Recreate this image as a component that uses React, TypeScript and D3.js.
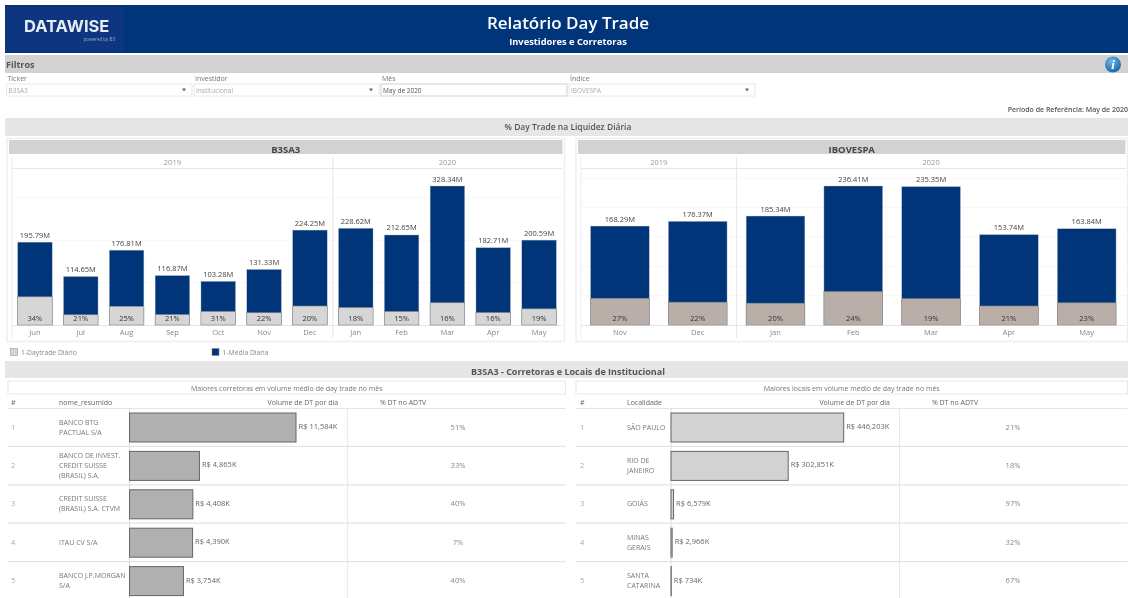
import * as d3 from "d3";

const FONT = "'Open Sans', sans-serif";
const NAVY = "#00347a";

// B3SA3 panel
const b3Months = ["Jun", "Jul", "Aug", "Sep", "Oct", "Nov", "Dec", "Jan", "Feb", "Mar", "Apr", "May"];
const b3Totals = [195.79, 114.65, 176.81, 116.87, 103.28, 131.33, 224.25, 228.62, 212.65, 328.34, 182.71, 200.59];
const b3Shares = [34, 21, 25, 21, 31, 22, 20, 18, 15, 16, 16, 19];
const b3Ticks = [100, 200, 300];

// IBOVESPA panel
const ibovMonths = ["Nov", "Dec", "Jan", "Feb", "Mar", "Apr", "May"];
const ibovTotals = [168.29, 176.37, 185.34, 236.41, 235.35, 153.74, 163.84];
const ibovShares = [27, 22, 20, 24, 19, 21, 23];
const ibovTicks = [50, 100, 150, 200, 250];

// tables
const brokerNames = [
  ["BANCO BTG", "PACTUAL S/A"],
  ["BANCO DE INVEST.", "CREDIT SUISSE", "(BRASIL) S.A."],
  ["CREDIT SUISSE", "(BRASIL) S.A. CTVM"],
  ["ITAU CV S/A"],
  ["BANCO J.P.MORGAN", "S/A"],
];
const brokerVolumes = [11584, 4865, 4408, 4390, 3754];
const brokerShares = [51, 33, 40, 7, 40];

const placeNames = [
  ["SÃO PAULO"],
  ["RIO DE", "JANEIRO"],
  ["GOIÁS"],
  ["MINAS", "GERAIS"],
  ["SANTA", "CATARINA"],
];
const placeVolumes = [446203, 302851, 6579, 2966, 734];
const placeShares = [21, 18, 97, 32, 67];

const filterLabels = ["Ticker", "Investidor", "Mês", "Índice"];
const filterValues = ["B3SA3", "Institucional", "May de 2020", "IBOVESPA"];

const moneyFormat = d3.format(",.0f");

type PanelProps = {
  title: string;
  months: string[];
  totals: number[];
  shares: number[];
  ticks: number[];
  domainMax: number;
  x0: number;
  x1: number;
  frameX0: number;
  frameX1: number;
  split: number;
  shareFill: string;
};

function BarPanel(props: PanelProps) {
  const { title, months, totals, shares, ticks, domainMax, x0, x1, frameX0, frameX1, split, shareFill } = props;
  const base = 325;
  const top = 186;
  const keys = months.map((m, i) => `${m}${i}`);
  const x = d3.scaleBand<string>().domain(keys).range([x0, x1]).paddingInner(0.245).paddingOuter(0.1225);
  const y = d3.scaleLinear().domain([0, domainMax]).range([base, top]);
  const divider = x0 + x.step() * split;

  return (
    <g>
      <rect x={frameX0} y={138.5} width={frameX1 - frameX0} height={203} fill="#fff" stroke="#efefef" strokeWidth={1.5} />
      <rect x={frameX0 + 2} y={140} width={frameX1 - frameX0 - 4} height={14} fill="#d2d2d2" />
      <text x={(frameX0 + frameX1) / 2} y={153} textAnchor="middle" fontSize={9.5} fontWeight={700} fill="#444">
        {title}
      </text>

      {ticks.map((t) => (
        <line key={t} x1={x0} x2={x1} y1={y(t)} y2={y(t)} stroke="#f7f7f7" />
      ))}
      <line x1={x0} x2={x1} y1={168.5} y2={168.5} stroke="#e6e6e6" />
      <line x1={x0} x2={x1} y1={base + 0.5} y2={base + 0.5} stroke="#e6e6e6" />
      <line x1={x0} x2={x0} y1={157} y2={338} stroke="#ebebeb" />
      <line x1={divider} x2={divider} y1={157} y2={338} stroke="#e6e6e6" />

      <text x={(x0 + divider) / 2} y={165} textAnchor="middle" fontSize={7.5} fill="#999">2019</text>
      <text x={(divider + x1) / 2} y={165} textAnchor="middle" fontSize={7.5} fill="#999">2020</text>

      {keys.map((k, i) => {
        const total = totals[i];
        const part = (total * shares[i]) / 100;
        const bx = x(k) as number;
        const cx = bx + x.bandwidth() / 2;
        return (
          <g key={k}>
            <rect x={bx} y={y(total)} width={x.bandwidth()} height={base - y(total)} fill={NAVY} stroke="#c4c8d0" strokeWidth={0.4} />
            <rect x={bx} y={y(part)} width={x.bandwidth()} height={base - y(part)} fill={shareFill} stroke="#8a8a8a" strokeWidth={0.6} />
            <text x={cx} y={y(total) - 4.5} textAnchor="middle" fontSize={7.5} fill="#444">{total.toFixed(2)}M</text>
            <text x={cx} y={320.5} textAnchor="middle" fontSize={7.5} fill="#333">{shares[i]}%</text>
            <text x={cx} y={335} textAnchor="middle" fontSize={7.5} fill="#888">{months[i]}</text>
          </g>
        );
      })}
    </g>
  );
}

type TableProps = {
  heading: string;
  dimension: string;
  names: string[][];
  volumes: number[];
  shares: number[];
  boxX0: number;
  boxX1: number;
  rankX: number;
  nameX: number;
  barX: number;
  barMaxX: number;
  colX: number;
  shareX: number;
  barFill: string;
};

function RankTable(props: TableProps) {
  const { heading, dimension, names, volumes, shares, boxX0, boxX1, rankX, nameX, barX, barMaxX, colX, shareX, barFill } = props;
  const rowH = 38.4;
  const tableTop = 408;
  const x = d3.scaleLinear().domain([0, d3.max(volumes) as number]).range([barX, barMaxX]);
  const rows = d3.range(names.length);

  return (
    <g>
      <rect x={boxX0} y={381} width={boxX1 - boxX0} height={13} fill="#fff" stroke="#e8e8e8" />
      <text x={(boxX0 + boxX1) / 2} y={391} textAnchor="middle" fontSize={7} fill="#777">{heading}</text>

      <text x={rankX} y={405} fontSize={7} fill="#666">#</text>
      <text x={nameX} y={405} fontSize={7} fill="#666">{dimension}</text>
      <text x={colX - 9.5} y={405} textAnchor="end" fontSize={7} fill="#666">Volume de DT por dia</text>
      <text x={colX + 55.5} y={405} textAnchor="middle" fontSize={7} fill="#666">% DT no ADTV</text>

      <line x1={boxX0} x2={boxX1} y1={408.5} y2={408.5} stroke="#e4e4e4" />
      {rows.map((i) => (
        <line key={i} x1={boxX0} x2={boxX1} y1={tableTop + rowH * (i + 1)} y2={tableTop + rowH * (i + 1)} stroke="#e4e4e4" strokeWidth={1.3} />
      ))}
      <line x1={barX} x2={barX} y1={408} y2={598} stroke="#dcdcdc" />
      <line x1={colX} x2={colX} y1={408} y2={598} stroke="#e8e8e8" />

      {rows.map((i) => {
        const cy = tableTop + rowH * i + 19;
        const lines = names[i];
        return (
          <g key={i}>
            <text x={rankX} y={cy + 2.5} fontSize={7.5} fill="#aaa">{i + 1}</text>
            {lines.map((line, j) => (
              <text key={j} x={nameX} y={cy + 2.5 + (j - (lines.length - 1) / 2) * 10} fontSize={7} fill="#777">
                {line}
              </text>
            ))}
            <rect x={barX} y={cy - 14} width={x(volumes[i]) - barX} height={29} fill={barFill} stroke="#666" strokeWidth={1} />
            <text x={x(volumes[i]) + 2.5} y={cy + 2} fontSize={7.5} fill="#666">R$ {moneyFormat(volumes[i])}K</text>
            <text x={shareX} y={cy + 2.5} textAnchor="middle" fontSize={7.5} fill="#888">{shares[i]}%</text>
          </g>
        );
      })}
    </g>
  );
}

function Filters() {
  const boxes = [
    [6.5, 192],
    [194, 379],
    [381, 567],
    [569, 755],
  ];
  return (
    <g>
      {boxes.map(([a, b], i) => (
        <g key={filterLabels[i]}>
          <text x={a + 1} y={80.5} fontSize={7} fill="#777">{filterLabels[i]}</text>
          <rect x={a} y={84} width={b - a} height={12} fill="#fff" stroke={i === 2 ? "#cfcfcf" : "#e8e8e8"} />
          <text x={a + 2} y={92.5} fontSize={6.5} fill={i === 2 ? "#555" : "#aaa"}>{filterValues[i]}</text>
          {i !== 2 && (
            <path d={`M${b - 10},88.5h4l-2,3z`} fill="#666" />
          )}
        </g>
      ))}
    </g>
  );
}

export default function App() {
  return (
    <svg
      width={1128}
      height={598}
      style={{ position: "absolute", left: 0, top: 0, display: "block", background: "#fff" }}
      fontFamily={FONT}
    >
      <defs>
        <filter id="soft" x="0" y="0" width="100%" height="100%">
          <feGaussianBlur stdDeviation="0.42" />
        </filter>
        <radialGradient id="infoBlue" cx="40%" cy="30%" r="75%">
          <stop offset="0%" stopColor="#6fb4e6" />
          <stop offset="100%" stopColor="#1566ad" />
        </radialGradient>
      </defs>
      <g filter="url(#soft)">
        {/* banner */}
        <rect x={5} y={5} width={1123} height={48} fill={NAVY} />
        <rect x={5} y={7} width={119} height={44} fill="#0d3480" />
        <text x={24} y={31.5} fontSize={16.5} fontWeight={700} fill="#e8ecf4" fontFamily="Inter, sans-serif">DATAWISE</text>
        <text x={115} y={41} textAnchor="end" fontSize={4.5} fill="#9fb0d0">powered by B3</text>
        <text x={568} y={29} textAnchor="middle" fontSize={17} fontWeight={600} fill="#fff">Relatório Day Trade</text>
        <text x={568} y={45} textAnchor="middle" fontSize={9.3} fontWeight={700} fill="#fff">Investidores e Corretoras</text>

        {/* filters */}
        <rect x={5} y={55} width={1123} height={18} fill="#d2d2d2" />
        <text x={6} y={68} fontSize={9} fontWeight={700} fill="#555">Filtros</text>
        <circle cx={1113} cy={64.5} r={8} fill="url(#infoBlue)" />
        <text x={1113} y={69} textAnchor="middle" fontSize={13} fontWeight={700} fontStyle="italic" fill="#fff" fontFamily="'Liberation Serif', serif">i</text>
        <Filters />
        <text x={1128} y={111.5} textAnchor="end" fontSize={7} fontWeight={600} fill="#555">Período de Referência: May de 2020</text>

        {/* chart section */}
        <rect x={5} y={118} width={1123} height={18} fill="#e6e6e6" />
        <text x={568} y={130} textAnchor="middle" fontSize={8.5} fontWeight={600} fill="#555">% Day Trade na Liquidez Diária</text>
        <BarPanel
          title="B3SA3"
          months={b3Months}
          totals={b3Totals}
          shares={b3Shares}
          ticks={b3Ticks}
          domainMax={328.34}
          x0={12}
          x1={562}
          frameX0={7}
          frameX1={564.5}
          split={7}
          shareFill="#d6d6d6"
        />
        <BarPanel
          title="IBOVESPA"
          months={ibovMonths}
          totals={ibovTotals}
          shares={ibovShares}
          ticks={ibovTicks}
          domainMax={236.41}
          x0={581}
          x1={1125.6}
          frameX0={576}
          frameX1={1127.5}
          split={2}
          shareFill="#b9aea8"
        />

        {/* legend */}
        <rect x={10.5} y={348.5} width={7} height={7} fill="#d6d6d6" stroke="#999" strokeWidth={0.6} />
        <text x={21} y={355} fontSize={6.8} fill="#888">1-Daytrade Diário</text>
        <rect x={212} y={348.5} width={7} height={7} fill={NAVY} stroke="#888" strokeWidth={0.6} />
        <text x={222.5} y={355} fontSize={6.8} fill="#888">1-Média Diaria</text>

        {/* tables */}
        <rect x={5} y={361} width={1123} height={17} fill="#e6e6e6" />
        <text x={568} y={375} textAnchor="middle" fontSize={9} fontWeight={700} fill="#555">B3SA3 - Corretoras e Locais de Institucional</text>
        <RankTable
          heading="Maiores corretoras em volume médio de day trade no mês"
          dimension="nome_resumido"
          names={brokerNames}
          volumes={brokerVolumes}
          shares={brokerShares}
          boxX0={8}
          boxX1={565.5}
          rankX={11}
          nameX={59}
          barX={129.5}
          barMaxX={296}
          colX={347.6}
          shareX={458}
          barFill="#b0b0b0"
        />
        <RankTable
          heading="Maiores locais em volume médio de day trade no mês"
          dimension="Localidade"
          names={placeNames}
          volumes={placeVolumes}
          shares={placeShares}
          boxX0={576}
          boxX1={1127.5}
          rankX={580}
          nameX={627}
          barX={671}
          barMaxX={843.7}
          colX={899.5}
          shareX={1013}
          barFill="#d2d2d2"
        />
      </g>
    </svg>
  );
}
